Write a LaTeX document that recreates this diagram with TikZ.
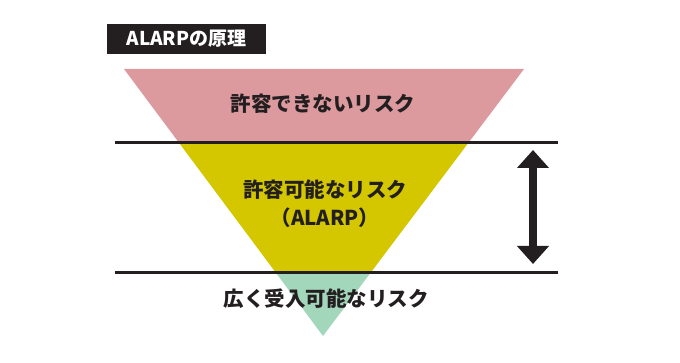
\documentclass[tikz,border=0pt]{standalone}
\usepackage{fontspec}
\setmainfont{Noto Sans CJK JP}
\usetikzlibrary{arrows.meta}
\definecolor{inkdark}{HTML}{231F20}
\definecolor{riskpink}{HTML}{DC9A9E}
\definecolor{riskyellow}{HTML}{D4C700}
\definecolor{riskgreen}{HTML}{A3D7BC}
\tikzset{
  zonetext/.style={text=inkdark, font=\fontsize{20.5}{28}\selectfont\bfseries, align=center},
  bandline/.style={draw=inkdark, line width=3pt},
}
\begin{document}
\begin{tikzpicture}[x=1pt, y=-1pt]
    \useasboundingbox (0,0) rectangle (680,363);

    % Corners of the inverted triangle
    \coordinate (A) at (124,69);
    \coordinate (B) at (524,69);
    \coordinate (C) at (323,336);

    % Three coloured bands of the triangle
    \begin{scope}
        \clip (0,0) rectangle (680,143);
        \fill[riskpink] (A) -- (B) -- (C) -- cycle;
    \end{scope}
    \begin{scope}
        \clip (0,143) rectangle (680,273);
        \fill[riskyellow] (A) -- (B) -- (C) -- cycle;
    \end{scope}
    \begin{scope}
        \clip (0,273) rectangle (680,363);
        \fill[riskgreen] (A) -- (B) -- (C) -- cycle;
    \end{scope}

    % Border lines between the bands
    \coordinate (L1a) at (115,143);
    \coordinate (L1b) at (558,143);
    \coordinate (L2a) at (115,273);
    \coordinate (L2b) at (558,273);
    \draw[bandline] (L1a) -- (L1b);
    \draw[bandline] (L2a) -- (L2b);

    % Double arrow for the ALARP range
    \coordinate (up) at (533,150);
    \coordinate (down) at (533,264);
    \draw[inkdark, line width=8pt, {Triangle[width=31pt,length=18pt]}-{Triangle[width=31pt,length=18pt]}] (up) -- (down);

    % Title
    \node[fill=inkdark, text=white, minimum width=159pt, minimum height=30pt, inner sep=0pt,
          font=\fontsize{19}{22}\selectfont\bfseries] (title) at (186.5,39) {ALARPの原理};

    % Labels of the bands
    \node[zonetext] (unacc) at (323,104) {許容できないリスク};
    \node[zonetext] (alarp) at (325,204) {許容可能なリスク\\（ALARP）};
    \node[zonetext] (broad) at (326,299) {広く受入可能なリスク};
\end{tikzpicture}
\end{document}
